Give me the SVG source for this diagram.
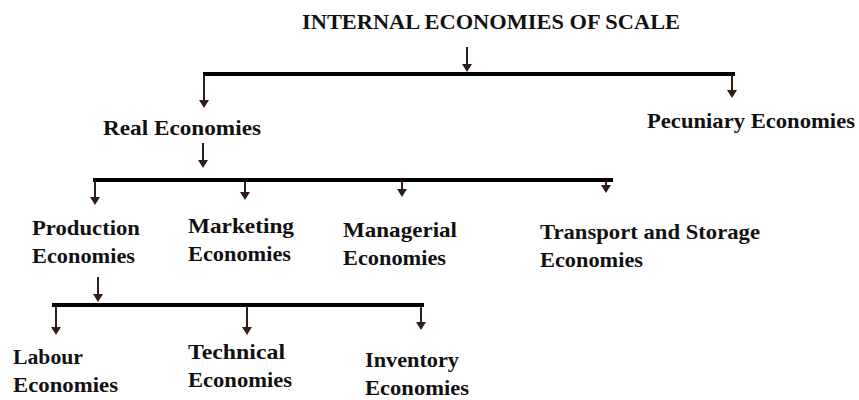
<svg xmlns="http://www.w3.org/2000/svg" width="859" height="400" viewBox="0 0 859 400">
<style>
text{font-family:"Liberation Serif","Times New Roman",serif;font-weight:bold;font-size:21px;fill:#111;}
.t{font-size:20px;}
.bar{stroke:#000;stroke-width:4;fill:none;}
.stem{stroke:#2e2018;stroke-width:2;fill:none;}
.head{fill:#2e2018;}
</style>
<rect width="859" height="400" fill="#fff"/>
<g id="connectors">
<line class="bar" x1="203" y1="74" x2="735" y2="74"/>
<line class="bar" x1="93" y1="180" x2="613" y2="180"/>
<line class="bar" x1="52" y1="305" x2="424" y2="305"/>
<path class="stem" d="M467,47 V70"/><path class="head" d="M462,64 h10 l-5,8 z"/>
<path class="stem" d="M204,75 V106"/><path class="head" d="M199,100 h10 l-5,8 z"/>
<path class="stem" d="M732,75 V96"/><path class="head" d="M727,90 h10 l-5,8 z"/>
<path class="stem" d="M203,143 V166"/><path class="head" d="M198,160 h10 l-5,8 z"/>
<path class="stem" d="M95,181 V203"/><path class="head" d="M90,197 h10 l-5,8 z"/>
<path class="stem" d="M245,181 V198"/><path class="head" d="M240,192 h10 l-5,8 z"/>
<path class="stem" d="M402,181 V195"/><path class="head" d="M397,189 h10 l-5,8 z"/>
<path class="stem" d="M606,181 V191"/><path class="head" d="M601,185 h10 l-5,8 z"/>
<path class="stem" d="M98,277 V300"/><path class="head" d="M93,294 h10 l-5,8 z"/>
<path class="stem" d="M56,306 V333"/><path class="head" d="M51,327 h10 l-5,8 z"/>
<path class="stem" d="M247,306 V333"/><path class="head" d="M242,327 h10 l-5,8 z"/>
<path class="stem" d="M421,306 V328"/><path class="head" d="M416,322 h10 l-5,8 z"/>
</g>
<g id="title"><text class="t" x="302" y="29" textLength="378" lengthAdjust="spacingAndGlyphs">INTERNAL ECONOMIES OF SCALE</text></g>
<g id="real"><text x="103" y="135" textLength="158" lengthAdjust="spacingAndGlyphs">Real Economies</text></g>
<g id="pecuniary"><text x="647" y="128" textLength="208" lengthAdjust="spacingAndGlyphs">Pecuniary Economies</text></g>
<g id="production"><text x="32" y="235" textLength="108" lengthAdjust="spacingAndGlyphs">Production</text><text x="32" y="263" textLength="103" lengthAdjust="spacingAndGlyphs">Economies</text></g>
<g id="marketing"><text x="188" y="233" textLength="106" lengthAdjust="spacingAndGlyphs">Marketing</text><text x="188" y="261" textLength="103" lengthAdjust="spacingAndGlyphs">Economies</text></g>
<g id="managerial"><text x="343" y="237" textLength="114" lengthAdjust="spacingAndGlyphs">Managerial</text><text x="343" y="265" textLength="103" lengthAdjust="spacingAndGlyphs">Economies</text></g>
<g id="transport"><text x="540" y="239" textLength="220" lengthAdjust="spacingAndGlyphs">Transport and Storage</text><text x="540" y="267" textLength="103" lengthAdjust="spacingAndGlyphs">Economies</text></g>
<g id="labour"><text x="13" y="364" textLength="70" lengthAdjust="spacingAndGlyphs">Labour</text><text x="13" y="392" textLength="105" lengthAdjust="spacingAndGlyphs">Economies</text></g>
<g id="technical"><text x="188" y="359" textLength="97" lengthAdjust="spacingAndGlyphs">Technical</text><text x="188" y="387" textLength="104" lengthAdjust="spacingAndGlyphs">Economies</text></g>
<g id="inventory"><text x="365" y="367" textLength="94" lengthAdjust="spacingAndGlyphs">Inventory</text><text x="365" y="395" textLength="104" lengthAdjust="spacingAndGlyphs">Economies</text></g>
</svg>
